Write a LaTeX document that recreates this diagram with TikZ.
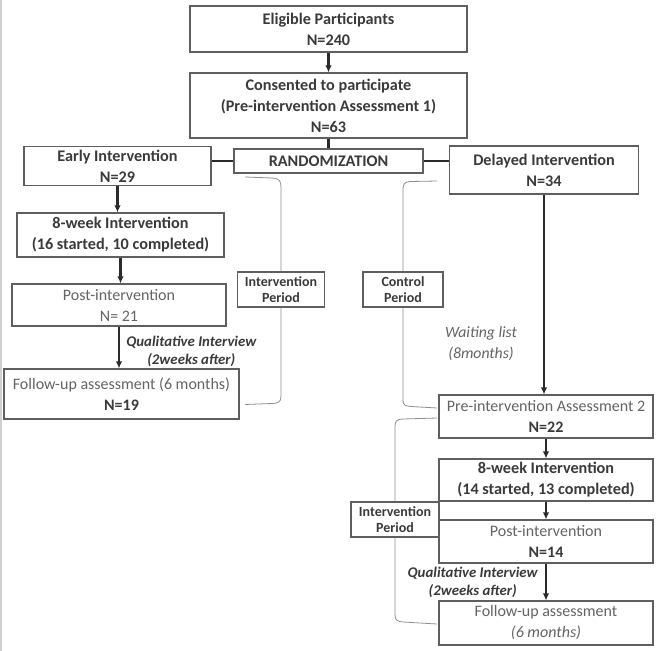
\documentclass[tikz,border=0pt]{standalone}
\usepackage{fontspec}
\setmainfont{Carlito}
\usetikzlibrary{arrows.meta,calc}

\definecolor{boxline}{HTML}{5F5F5F}
\definecolor{txtdark}{HTML}{3A3A3A}
\definecolor{txtlight}{HTML}{646464}
\definecolor{arrowdark}{HTML}{2B2B2B}
\definecolor{braceline}{HTML}{8E8E8E}
\definecolor{edgeline}{HTML}{D0D0D0}

\begin{document}
\begin{tikzpicture}[x=1pt, y=-1pt,
  box/.style={draw=boxline, line width=1.2pt, align=center, inner sep=0pt,
    text=txtdark, font=\fontsize{16.2}{21}\selectfont\bfseries},
  plainbox/.style={box, text=txtlight, font=\fontsize{16}{21}\selectfont},
  periodbox/.style={box, font=\fontsize{14}{16.5}\selectfont\bfseries},
  arr/.style={draw=arrowdark, line width=2.1pt, -{Latex[length=7pt,width=6.5pt]}},
  link/.style={draw=arrowdark, line width=2.1pt},
  brace/.style={draw=braceline, line width=0.8pt},
  qual/.style={align=center, text=txtdark, font=\fontsize{14.8}{18}\selectfont\bfseries\itshape}]
  \useasboundingbox (0,0) rectangle (662,651);
  \fill[white] (0,0) rectangle (662,651);
  \draw[draw=edgeline, line width=1.5pt] (0.75,0) -- (0.75,651);

  % Nodes
  \node[box, minimum width=277pt, minimum height=46pt] (elig) at (328.5,29) {Eligible Participants\\N=240};
  \node[box, minimum width=277pt, minimum height=65pt] (consent) at (328.5,105.5) {Consented to participate\\(Pre-intervention Assessment 1)\\N=63};
  \node[box, minimum width=189pt, minimum height=24pt] (rand) at (328.5,161) {RANDOMIZATION};
  \node[box, minimum width=187pt, minimum height=39pt] (early) at (117.5,166) {Early Intervention\\N=29};
  \node[box, minimum width=189pt, minimum height=48pt] (delayed) at (544,170) {Delayed Intervention\\N=34};

  \node[box, minimum width=207pt, minimum height=44pt] (week8L) at (120.5,235) {8-week Intervention\\(16 started, 10 completed)};
  \node[plainbox, minimum width=214pt, minimum height=42pt] (postL) at (119,305) {Post-intervention\\N= 21};
  \node[plainbox, minimum width=235pt, minimum height=50pt] (followL) at (121.5,394) {Follow-up assessment (6 months)\\\textcolor{txtdark}{\bfseries N=19}};

  \node[periodbox, minimum width=87pt, minimum height=35pt] (ipL) at (281,289.5) {Intervention\\Period};
  \node[periodbox, minimum width=80pt, minimum height=35pt] (cp) at (403,289.5) {Control\\Period};
  \node[text=txtlight, align=center, font=\fontsize{15.7}{21}\selectfont\itshape] (wait) at (481,344) {Waiting list\\(8months)};

  \node[plainbox, minimum width=214pt, minimum height=43pt] (preR) at (546,416.5) {Pre-intervention Assessment 2\\\textcolor{txtdark}{\bfseries N=22}};
  \node[box, minimum width=214pt, minimum height=42pt] (week8R) at (546,480) {8-week Intervention\\(14 started, 13 completed)};
  \node[plainbox, minimum width=214pt, minimum height=43pt] (postR) at (546,541.5) {Post-intervention\\\textcolor{txtdark}{\bfseries N=14}};
  \node[plainbox, minimum width=214pt, minimum height=44pt] (followR) at (546,623) {Follow-up assessment\\\textit{(6 months)}};
  \node[periodbox, minimum width=88pt, minimum height=35pt] (ipR) at (395,519.5) {Intervention\\Period};

  % Brackets
  \coordinate (ipLtop) at (245,177);
  \coordinate (ipLbot) at (245,404.5);
  \coordinate (cptop) at (437,181);
  \coordinate (cpbot) at (437,408);
  \coordinate (ipRtop) at (437,418);
  \coordinate (ipRbot) at (437,624);
  \draw[brace] (ipLtop) -- (272,178) .. controls (280,178.5) and (281,181) .. (281,188) -- (ipL.north);
  \draw[brace] (ipL.south) -- (281,396) .. controls (281,402) and (279,403) .. (272,403.5) -- (ipLbot);
  \draw[brace] (cptop) -- (410,181.5) .. controls (404,182) and (403,184) .. (403,191) -- (cp.north);
  \draw[brace] (cp.south) -- (403,400) .. controls (403,405) and (405,406) .. (411,406.5) -- (cpbot);
  \draw[brace] (ipRtop) -- (403,419) .. controls (396,419.5) and (395,421) .. (395,428) -- (ipR.north);
  \draw[brace] (ipR.south) -- (395,614) .. controls (395,620) and (396,621) .. (403,622) -- (ipRbot);

  % Edges
  \draw[arr] (elig) -- (consent);
  \draw[link] (consent) -- (rand);
  \draw[link] (rand.west) -- (rand.west -| early.east);
  \draw[link] (rand.east) -- (rand.east -| delayed.west);
  \draw[arr] (early.south) -- (early.south |- week8L.north);
  \draw[arr] (week8L.south) -- (week8L.south |- postL.north);
  \draw[arr] (postL.south) -- (postL.south |- followL.north)
    node[midway, anchor=west, xshift=3pt, yshift=-4pt, qual] {Qualitative Interview\\(2weeks after)};
  \draw[arr] (delayed.south) -- (delayed.south |- preR.north);
  \foreach \a/\b in {preR/week8R, week8R/postR}
    \draw[arr] (\a) -- (\b);
  \draw[arr] (postR) -- (followR)
    node[midway, anchor=east, xshift=-4pt, qual] {Qualitative Interview\\(2weeks after)};
\end{tikzpicture}
\end{document}
